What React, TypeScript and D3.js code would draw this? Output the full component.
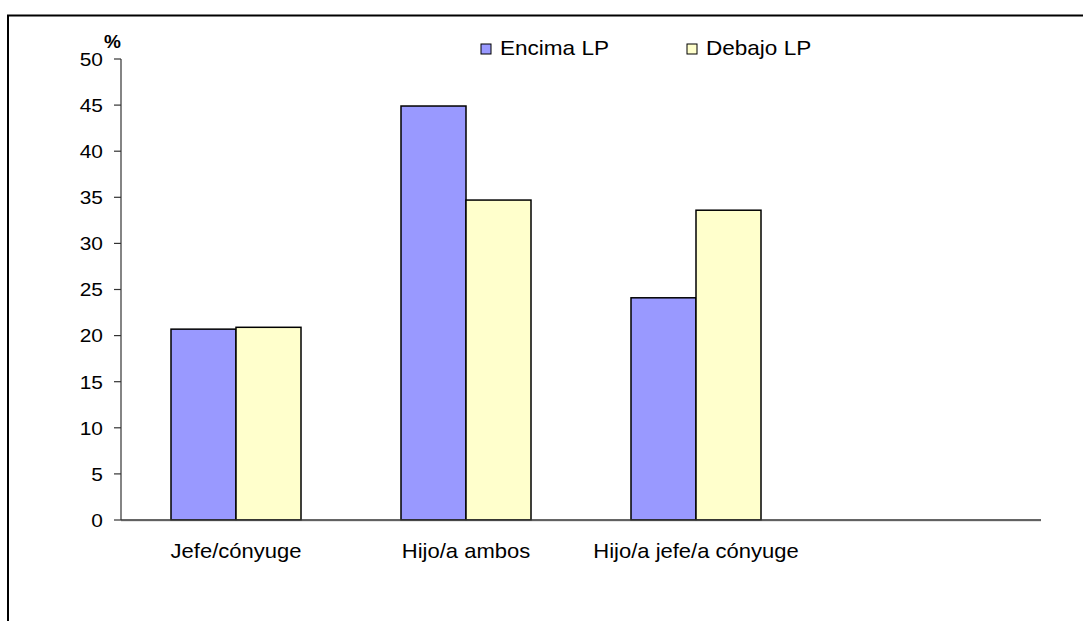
import React from "react";
import * as d3 from "d3";

const categories = ["Jefe/cónyuge", "Hijo/a ambos", "Hijo/a jefe/a cónyuge"];
const seriesNames = ["Encima LP", "Debajo LP"];
const encima = [20.7, 44.9, 24.1];
const debajo = [20.9, 34.7, 33.6];
const yTicks = [0, 5, 10, 15, 20, 25, 30, 35, 40, 45, 50];
const colors = ["#9999FF", "#FFFFCC"];

const W = 1083;
const H = 621;
const FONT = "Liberation Sans, Arial, sans-serif";
const SX = 1.1;

function Txt(props: { x: number; y: number; size: number; anchor?: string; dy?: string; bold?: boolean; children: React.ReactNode }) {
  const { x, y, size, anchor, dy, bold, children } = props;
  return (
    <text
      transform={`translate(${x},${y}) scale(${SX},1)`}
      dy={dy}
      textAnchor={anchor || "start"}
      fontSize={size}
      fontWeight={bold ? "bold" : "normal"}
      fill="#000"
    >
      {children}
    </text>
  );
}

export default function App() {
  const slots = [...categories, ""];
  const x0 = d3.scaleBand<string>().domain(slots).range([121, 1041]).paddingInner(0).paddingOuter(0);
  const bw = x0.bandwidth();
  const x1 = d3.scaleBand<string>().domain(seriesNames).range([(bw - 130) / 2, (bw + 130) / 2]);
  const y = d3.scaleLinear().domain([0, 50]).range([520, 59]);
  const seriesVals = [encima, debajo];

  return (
    <svg width={W} height={H} style={{ position: "absolute", left: 0, top: 0 }} fontFamily={FONT}>
      <rect x={0} y={0} width={W} height={H} fill="#fff" />
      <rect x={8} y={15.5} width={1200} height={700} fill="none" stroke="#000" strokeWidth={2} />
      {/* bars */}
      {categories.map((c, i) =>
        seriesNames.map((s, j) => {
          const v = seriesVals[j][i];
          const bx = (x0(c) as number) + (x1(s) as number);
          return (
            <rect
              key={c + s}
              x={bx}
              y={y(v)}
              width={x1.bandwidth()}
              height={y(0) - y(v)}
              fill={colors[j]}
              stroke="#000"
              strokeWidth={1.5}
            />
          );
        })
      )}
      {/* y axis */}
      <line x1={121} x2={121} y1={y(50)} y2={y(0)} stroke="#333" strokeWidth={1.2} />
      {yTicks.map((t) => (
        <g key={t}>
          <line x1={114} x2={121} y1={y(t)} y2={y(t)} stroke="#333" strokeWidth={1.2} />
          <Txt x={103} y={y(t)} dy="0.36em" anchor="end" size={19}>
            {t}
          </Txt>
        </g>
      ))}
      <text x={104} y={48} fontSize={19} fontWeight="bold" fill="#000">%</text>
      {/* x axis */}
      <line x1={121} x2={1041} y1={y(0) + 1} y2={y(0) + 1} stroke="#ccc" strokeWidth={1} />
      <line x1={121} x2={1041} y1={y(0)} y2={y(0)} stroke="#333" strokeWidth={1.5} />
      {categories.map((c) => (
        <Txt key={c} x={(x0(c) as number) + bw / 2} y={557.5} anchor="middle" size={20}>
          {c}
        </Txt>
      ))}
      {/* legend */}
      {seriesNames.map((s, j) => {
        const lx = j === 0 ? 481 : 687;
        return (
          <g key={s}>
            <rect x={lx} y={44} width={10} height={10} fill={colors[j]} stroke="#000" strokeWidth={1} />
            <Txt x={lx + 19} y={54.5} size={20.5}>{s}</Txt>
          </g>
        );
      })}
    </svg>
  );
}
